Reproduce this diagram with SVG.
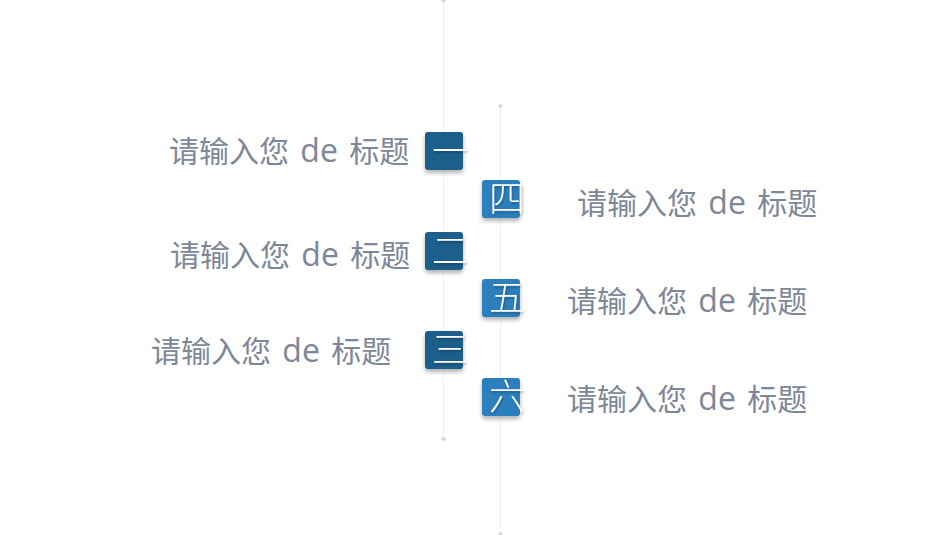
<svg xmlns="http://www.w3.org/2000/svg" width="950" height="535" viewBox="0 0 950 535">
  <defs>
    <filter id="sh" x="-30%" y="-30%" width="160%" height="170%">
      <feDropShadow dx="0" dy="3" stdDeviation="2" flood-color="#000" flood-opacity="0.3"/>
    </filter>
    <filter id="tsh" x="-30%" y="-30%" width="160%" height="170%">
      <feDropShadow dx="1" dy="1.5" stdDeviation="1" flood-color="#000" flood-opacity="0.3"/>
    </filter>
  </defs>
  <style>
    .line { stroke: #F0F1F3; stroke-width: 1; fill: none; }
    .dot { fill: #D2D5D9; }
    .sqL { fill: #1F5F8B; filter: url(#sh); }
    .sqR { fill: #2B7FBC; filter: url(#sh); }
    .num { font-family: "Noto Sans CJK SC", "Noto Sans", sans-serif; font-size: 36px; font-weight: 300; fill: #FFFFFF; filter: url(#tsh); }
    .lbl { font-family: "Noto Sans CJK SC", "Noto Sans", sans-serif; font-size: 30px; fill: #7E8797; word-spacing: 3px; }
    .lat { font-family: "Open Sans", "Noto Sans", sans-serif; font-size: 32px; }
  </style>
  <rect width="950" height="535" fill="#FFFFFF"/>
  <g id="connectors">
    <line class="line" x1="443.5" y1="0" x2="443.5" y2="439"/>
    <line class="line" x1="500.5" y1="106" x2="500.5" y2="535"/>
    <path class="dot" d="M443.5 -2 l2.5 2.5 l-2.5 2.5 l-2.5 -2.5 z"/>
    <path class="dot" d="M443.5 436.5 l2.5 2.5 l-2.5 2.5 l-2.5 -2.5 z"/>
    <path class="dot" d="M500.5 103.5 l2.5 2.5 l-2.5 2.5 l-2.5 -2.5 z"/>
    <path class="dot" d="M500.5 531.5 l2.5 2.5 l-2.5 2.5 l-2.5 -2.5 z"/>
  </g>
  <g id="node1">
    <rect class="sqL" x="425" y="132" width="38" height="38" rx="3"/>
    <text class="num" x="432" y="164">一</text>
    <text class="lbl" x="169" y="162">请输入您<tspan class="lat"> de </tspan>标题</text>
  </g>
  <g id="node4">
    <rect class="sqR" x="482" y="180" width="38" height="38" rx="3"/>
    <text class="num" x="489" y="212">四</text>
    <text class="lbl" x="577" y="214">请输入您<tspan class="lat"> de </tspan>标题</text>
  </g>
  <g id="node2">
    <rect class="sqL" x="425" y="232" width="38" height="38" rx="3"/>
    <text class="num" x="432" y="264">二</text>
    <text class="lbl" x="170" y="266">请输入您<tspan class="lat"> de </tspan>标题</text>
  </g>
  <g id="node5">
    <rect class="sqR" x="482" y="279" width="38" height="38" rx="3"/>
    <text class="num" x="489" y="311">五</text>
    <text class="lbl" x="567" y="312">请输入您<tspan class="lat"> de </tspan>标题</text>
  </g>
  <g id="node3">
    <rect class="sqL" x="425" y="331" width="38" height="38" rx="3"/>
    <text class="num" x="432" y="363">三</text>
    <text class="lbl" x="151" y="362">请输入您<tspan class="lat"> de </tspan>标题</text>
  </g>
  <g id="node6">
    <rect class="sqR" x="482" y="378" width="38" height="38" rx="3"/>
    <text class="num" x="489" y="410">六</text>
    <text class="lbl" x="567" y="410">请输入您<tspan class="lat"> de </tspan>标题</text>
  </g>
</svg>
